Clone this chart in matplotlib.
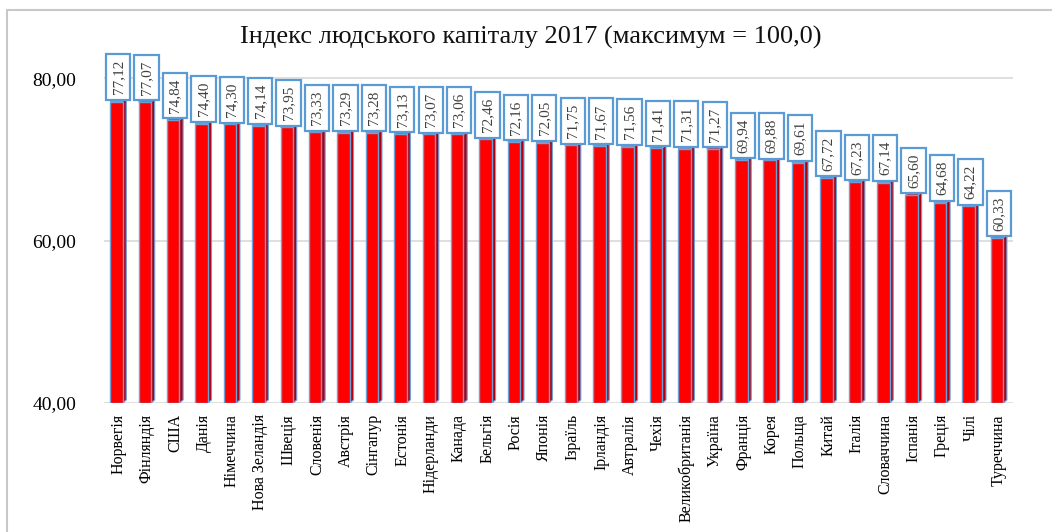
import matplotlib
matplotlib.use("Agg")
import matplotlib.pyplot as plt
from matplotlib.patches import Rectangle
import numpy as np

countries = ["Норвегія", "Фінляндія", "США", "Данія", "Німеччина", "Нова Зеландія",
             "Швеція", "Словенія", "Австрія", "Сінгапур", "Естонія", "Нідерланди",
             "Канада", "Бельгія", "Росія", "Японія", "Ізраїль", "Ірландія", "Автралія",
             "Чехія", "Великобританія", "Україна", "Франція", "Корея", "Польща",
             "Китай", "Італія", "Словаччина", "Іспанія", "Греція", "Чілі", "Туреччина"]
values = [77.12, 77.07, 74.84, 74.40, 74.30, 74.14, 73.95, 73.33, 73.29, 73.28,
          73.13, 73.07, 73.06, 72.46, 72.16, 72.05, 71.75, 71.67, 71.56, 71.41,
          71.31, 71.27, 69.94, 69.88, 69.61, 67.72, 67.23, 67.14, 65.60, 64.68,
          64.22, 60.33]
yticks = [40, 60, 80]
ytick_labels = ["40,00", "60,00", "80,00"]
title = "Індекс людського капіталу 2017 (максимум = 100,0)"

serif = ["Liberation Serif", "DejaVu Serif"]
plt.rcParams['font.family'] = serif

fig = plt.figure(figsize=(10.52, 5.32), dpi=100)
# outer chart border
fig.patches.append(Rectangle((7/1052, -0.1), 1.2, (532-10)/532 + 0.1,
                             transform=fig.transFigure, fill=False,
                             edgecolor="#c8c8c8", lw=1.5))

ax = fig.add_axes([104/1052, (532-403)/532, 909/1052, (403-37.5)/532])
n = len(values)
x = np.arange(n)
ax.set_xlim(-0.5, n - 0.5)
ax.set_ylim(40, 85)

for gy in yticks:
    ax.axhline(gy, color="#d9d9d9", lw=1.2, zorder=0)

w = 0.44
d = 0.13
dy = 0.38
vals = np.array(values)
ax.bar(x - d/2, vals - 40, bottom=40, width=w, color="#ff0000",
       edgecolor="#6fa0d8", linewidth=1.0, zorder=3)
for xi, v in zip(x - d/2, vals):
    xr = xi + w/2
    ax.fill([xr, xr + d, xr + d, xr], [40, 40 + dy, v + dy, v],
            color="#b00010", edgecolor="#6fa0d8", lw=0.8, zorder=2)
    xl = xi - w/2
    ax.fill([xl, xr, xr + d, xl + d], [v, v, v + dy, v + dy],
            color="#d01020", edgecolor="#6fa0d8", lw=0.8, zorder=4)

for xi, v in zip(x, vals):
    ax.annotate(f"{v:.2f}".replace(".", ","), (xi, v + dy), xytext=(0, 3),
                textcoords="offset points", rotation=90, ha="center", va="bottom",
                fontsize=11, color="#404040", zorder=6,
                bbox=dict(boxstyle="square,pad=0.37", fc="white",
                          ec="#5b9bd5", lw=1.6))

ax.set_xticks(x)
ax.set_xticklabels(countries, rotation=90, fontsize=11.5, va="top")
ax.set_yticks(yticks)
ax.set_yticklabels(ytick_labels, fontsize=14)
ax.tick_params(axis="both", length=0)
ax.tick_params(axis="x", pad=8)
ax.tick_params(axis="y", pad=20)
for s in ax.spines.values():
    s.set_visible(False)

fig.text(531/1052, 1 - 37/532, title, ha="center", va="center", fontsize=19,
         color="#111111")

fig.savefig("out.png", dpi=100)
